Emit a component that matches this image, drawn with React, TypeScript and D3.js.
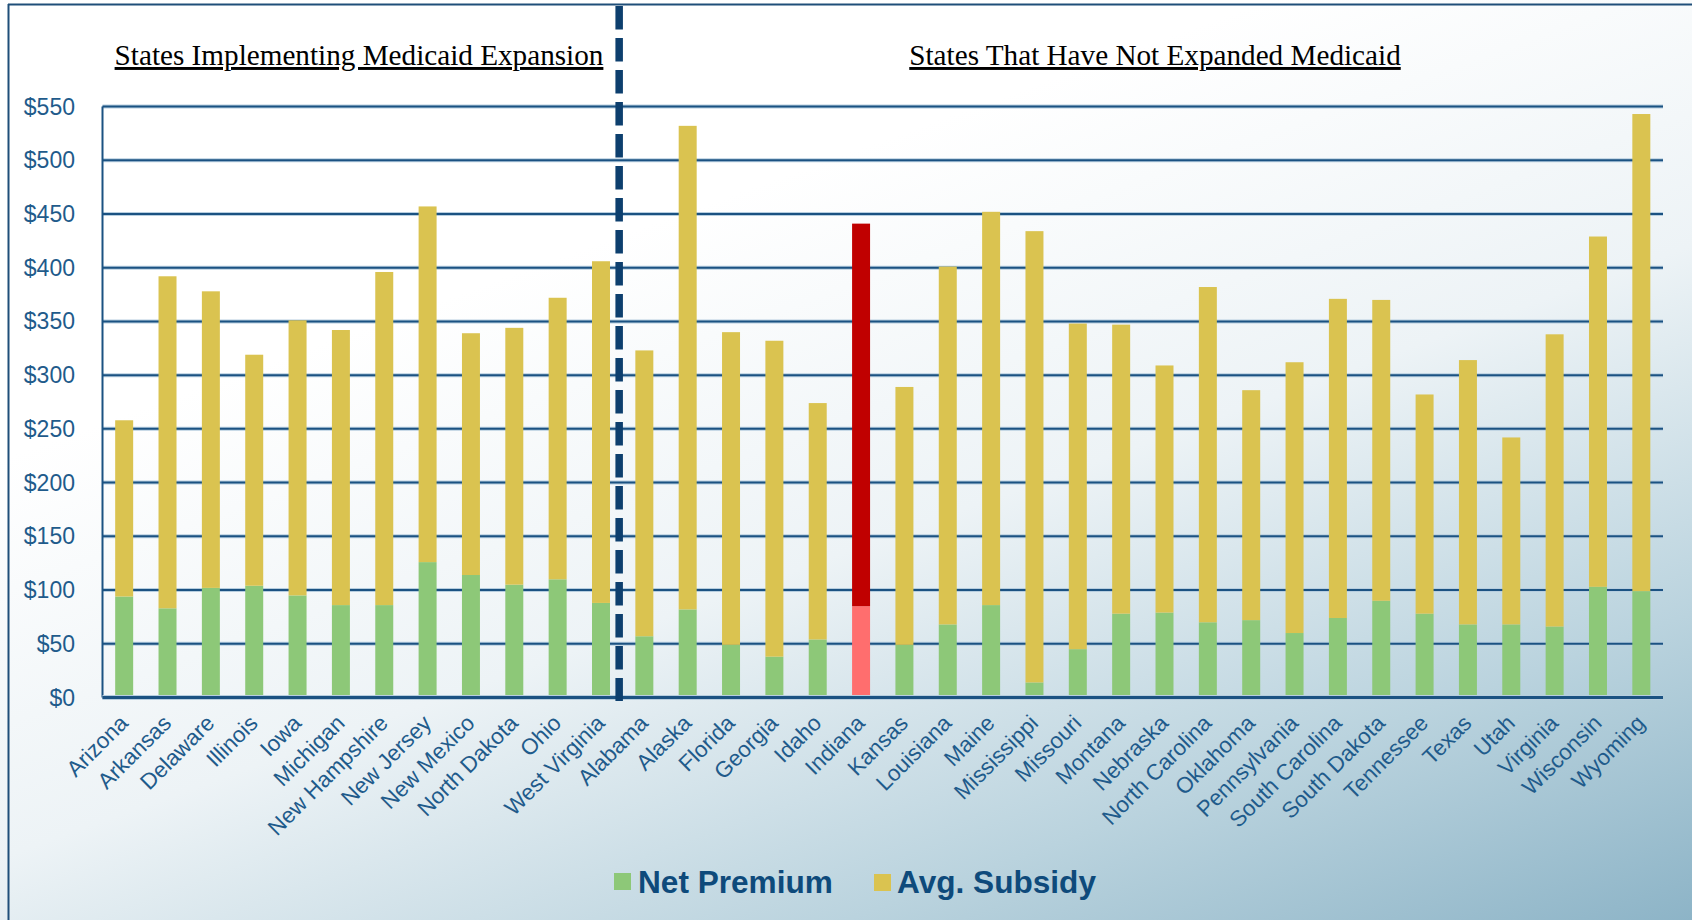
import React from "react";
import * as d3 from "d3";

// States grouped by Medicaid expansion status
const expansionStates = [
  "Arizona", "Arkansas", "Delaware", "Illinois", "Iowa", "Michigan",
  "New Hampshire", "New Jersey", "New Mexico", "North Dakota", "Ohio", "West Virginia",
];
const nonExpansionStates = [
  "Alabama", "Alaska", "Florida", "Georgia", "Idaho", "Indiana", "Kansas", "Louisiana",
  "Maine", "Mississippi", "Missouri", "Montana", "Nebraska", "North Carolina", "Oklahoma",
  "Pennsylvania", "South Carolina", "South Dakota", "Tennessee", "Texas", "Utah",
  "Virginia", "Wisconsin", "Wyoming",
];
const states = [...expansionStates, ...nonExpansionStates];

// Monthly amounts in dollars, one per state in the order above
const netPremium = [
  94, 83, 102, 104, 95, 86, 86, 126, 114, 105, 110, 88,
  57, 82, 49, 38, 54, 85, 49, 68, 86, 14, 45, 78, 79, 70, 72, 60, 74, 90, 78, 68, 68, 66, 103, 99,
];
const avgSubsidy = [
  164, 309, 276, 215, 256, 256, 310, 331, 225, 239, 262, 318,
  266, 450, 291, 294, 220, 356, 240, 333, 366, 420, 303, 269, 230, 312, 214, 252, 297, 280, 204, 246, 174, 272, 326, 444,
];

const yTicks = [0, 50, 100, 150, 200, 250, 300, 350, 400, 450, 500, 550];
const highlightState = "Indiana";

const W = 1692;
const H = 920;
const PLOT = { left: 102.5, right: 1663, top: 106.5, bottom: 697.5 };

const COLORS = {
  net: "#8DC878",
  subsidy: "#DAC350",
  netHighlight: "#FF6E6E",
  subsidyHighlight: "#C00000",
  grid: "#1B5282",
  gridGlow: "#B7CEDF",
  axisText: "#1F5B8B",
  legendText: "#0E4A7B",
  divider: "#0D3F6E",
};

export default function App() {
  const x = d3
    .scaleBand<string>()
    .domain(states)
    .range([PLOT.left, PLOT.right])
    .paddingInner(0.585)
    .paddingOuter(0.2925);
  const y = d3.scaleLinear().domain([0, 550]).range([PLOT.bottom, PLOT.top]);

  const rows = states.map((s, i) => ({ state: s, net: netPremium[i], subsidy: avgSubsidy[i] }));
  const stacked = d3.stack<any>().keys(["net", "subsidy"])(rows);

  const step = x.step();
  const dividerX = (x(expansionStates[expansionStates.length - 1]) as number) + x.bandwidth() / 2 + step / 2 - 3.5;

  const sans = "'Liberation Sans', Arial, sans-serif";
  const serif = "'Liberation Serif', 'Times New Roman', serif";

  return (
    <svg
      width={W}
      height={H}
      style={{ position: "absolute", left: 0, top: 0, display: "block" }}
    >
      <defs>
        <linearGradient id="bg" gradientUnits="userSpaceOnUse" x1={0} y1={0} x2={491} y2={1355}>
          <stop offset="0" stopColor="#ffffff" />
          <stop offset="0.3" stopColor="#ffffff" />
          <stop offset="0.56" stopColor="#edf3f6" />
          <stop offset="0.8" stopColor="#bad3de" />
          <stop offset="1" stopColor="#8db4c7" />
        </linearGradient>
      </defs>
      <rect x={0} y={0} width={W} height={H} fill="url(#bg)" />

      {/* frame */}
      <line x1={8.5} x2={8.5} y1={4} y2={H} stroke="#1F4E79" strokeWidth={2} />
      <line x1={8} x2={W} y1={4.5} y2={4.5} stroke="#1F4E79" strokeWidth={2} />

      {/* section headings */}
      <text
        x={359}
        y={65}
        textAnchor="middle"
        fontFamily={serif}
        fontSize={29.2}
        fill="#000"
        style={{ textDecoration: "underline" }}
      >
        States Implementing Medicaid Expansion
      </text>
      <text
        x={1155}
        y={65}
        textAnchor="middle"
        fontFamily={serif}
        fontSize={29.2}
        fill="#000"
        style={{ textDecoration: "underline" }}
      >
        States That Have Not Expanded Medicaid
      </text>

      {/* horizontal gridlines */}
      {yTicks.map((t) => (
        <g key={`g${t}`}>
          <line x1={PLOT.left} x2={PLOT.right} y1={y(t)} y2={y(t)} stroke={COLORS.gridGlow} strokeWidth={4} />
          <line x1={PLOT.left} x2={PLOT.right} y1={y(t)} y2={y(t)} stroke={COLORS.grid} strokeWidth={2} />
        </g>
      ))}

      {/* y tick labels */}
      {yTicks.map((t) => (
        <text
          key={`yt${t}`}
          x={75}
          y={y(t)}
          dy="0.35em"
          textAnchor="end"
          fontFamily={sans}
          fontSize={23}
          fill={COLORS.axisText}
        >
          {d3.format("$,")(t)}
        </text>
      ))}

      {/* stacked bars */}
      {stacked.map((layer) => (
        <g key={layer.key}>
          {layer.map((d: any) => {
            const st = d.data.state;
            const hi = st === highlightState;
            const fill =
              layer.key === "net"
                ? hi
                  ? COLORS.netHighlight
                  : COLORS.net
                : hi
                ? COLORS.subsidyHighlight
                : COLORS.subsidy;
            return (
              <rect
                key={st}
                x={x(st)}
                y={y(d[1])}
                width={x.bandwidth()}
                height={y(d[0]) - y(d[1])}
                fill={fill}
              />
            );
          })}
        </g>
      ))}

      {/* axes */}
      <line x1={PLOT.left} x2={PLOT.left} y1={PLOT.top} y2={PLOT.bottom} stroke={COLORS.grid} strokeWidth={2} />
      <line x1={PLOT.left} x2={PLOT.right} y1={PLOT.bottom} y2={PLOT.bottom} stroke={COLORS.gridGlow} strokeWidth={5} />
      <line x1={PLOT.left} x2={PLOT.right} y1={PLOT.bottom} y2={PLOT.bottom} stroke={COLORS.grid} strokeWidth={3} />

      {/* divider between the two groups */}
      <line
        x1={dividerX}
        x2={dividerX}
        y1={6}
        y2={701}
        stroke={COLORS.divider}
        strokeWidth={7.5}
        strokeDasharray="23.5 8.5"
      />

      {/* state labels */}
      {states.map((s) => {
        const cx = (x(s) as number) + x.bandwidth() / 2;
        return (
          <text
            key={`xl${s}`}
            transform={`translate(${cx + 5},${PLOT.bottom + 27}) rotate(-45)`}
            textAnchor="end"
            fontFamily={sans}
            fontSize={22.3}
            fill={COLORS.axisText}
          >
            {s}
          </text>
        );
      })}

      {/* legend */}
      <rect x={614} y={873} width={17} height={17} fill={COLORS.net} />
      <text x={638} y={893} fontFamily={sans} fontWeight="bold" fontSize={31.6} fill={COLORS.legendText}>
        Net Premium
      </text>
      <rect x={874} y={874} width={17} height={17} fill={COLORS.subsidy} />
      <text x={897} y={893} fontFamily={sans} fontWeight="bold" fontSize={31.6} fill={COLORS.legendText}>
        Avg. Subsidy
      </text>
    </svg>
  );
}
